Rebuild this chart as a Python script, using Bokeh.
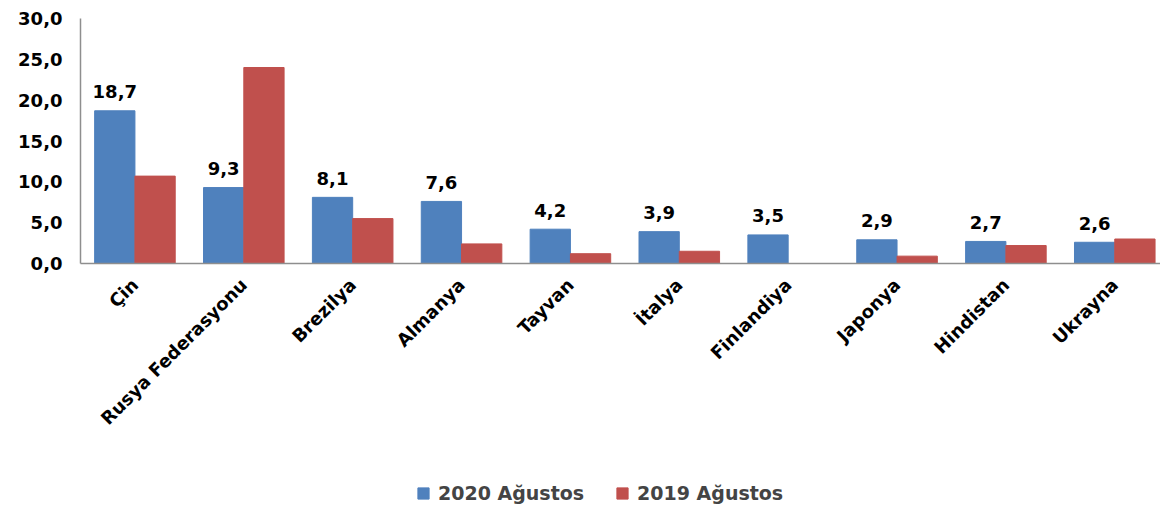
import numpy as np
from bokeh.plotting import figure
from bokeh.layouts import column
from bokeh.models import Range1d, FixedTicker, Legend, LegendItem, ColumnDataSource
from bokeh.embed import file_html
from bokeh.resources import INLINE
from bokeh.core.properties import value

countries = ["Çin", "Rusya Federasyonu", "Brezilya", "Almanya", "Tayvan",
             "İtalya", "Finlandiya", "Japonya", "Hindistan", "Ukrayna"]
v2020 = [18.7, 9.3, 8.1, 7.6, 4.2, 3.9, 3.5, 2.9, 2.7, 2.6]
v2019 = [10.7, 24.0, 5.5, 2.4, 1.2, 1.5, 0.0, 0.9, 2.2, 3.0]
y_ticks = [0, 5, 10, 15, 20, 25, 30]
series_names = ["2020 Ağustos", "2019 Ağustos"]

BLUE = "#4F81BD"
RED = "#C0504D"
FONT = "DejaVu Sans"

centers = np.arange(len(countries)) + 0.5
bw = 0.37

src = ColumnDataSource(dict(
    xb=centers - bw / 2, xr=centers + bw / 2,
    v20=v2020, v19=v2019,
    lab=[f"{v:.1f}".replace(".", ",") for v in v2020],
))

p = figure(width=1160, height=470, output_backend="svg", toolbar_location=None,
           x_range=Range1d(0, 9.92), y_range=Range1d(0, 30),
           min_border_left=80, min_border_right=0, min_border_top=18,
           min_border_bottom=207)
p.outline_line_color = None
p.xgrid.visible = False
p.ygrid.visible = False

r20 = p.vbar(x="xb", top="v20", width=bw, source=src, fill_color=BLUE, line_color=BLUE)
r19 = p.vbar(x="xr", top="v19", width=bw, source=src, fill_color=RED, line_color=RED)

p.text(x="xb", y="v20", text="lab", source=src, text_align="center",
       text_baseline="alphabetic", y_offset=-19, text_font=value(FONT),
       text_font_style="bold", text_font_size="18px", text_color="black")

# y axis
p.yaxis.ticker = FixedTicker(ticks=y_ticks)
p.yaxis.major_label_overrides = {t: f"{t:.1f}".replace(".", ",") for t in y_ticks}
p.yaxis.major_label_text_font = FONT
p.yaxis.major_label_text_font_style = "bold"
p.yaxis.major_label_text_font_size = "18px"
p.yaxis.major_label_text_color = "black"
p.yaxis.major_tick_line_color = None
p.yaxis.minor_tick_line_color = None
p.yaxis.axis_line_color = "#8E8E8E"
p.yaxis.axis_line_width = 1.5
p.yaxis.major_label_standoff = 12

# x axis
p.xaxis.ticker = FixedTicker(ticks=list(centers))
p.xaxis.major_label_overrides = {float(c): n for c, n in zip(centers, countries)}
p.xaxis.major_label_orientation = np.pi / 4
p.xaxis.major_label_text_font = FONT
p.xaxis.major_label_text_font_style = "bold"
p.xaxis.major_label_text_font_size = "18px"
p.xaxis.major_label_text_color = "black"
p.xaxis.major_tick_line_color = None
p.xaxis.minor_tick_line_color = None
p.xaxis.axis_line_color = "#8E8E8E"
p.xaxis.axis_line_width = 1.5
p.xaxis.major_label_standoff = 12

# legend strip
p2 = figure(width=1160, height=34, output_backend="svg", toolbar_location=None,
            x_range=Range1d(0, 1), y_range=Range1d(0, 1),
            x_axis_type=None, y_axis_type=None,
            min_border=0, min_border_left=0, min_border_right=0,
            min_border_top=0, min_border_bottom=0)
p2.outline_line_color = None
p2.xgrid.visible = False
p2.ygrid.visible = False
l20 = p2.vbar(x=[5], top=[5], bottom=[4], width=1, fill_color=BLUE, line_color=BLUE)
l19 = p2.vbar(x=[5], top=[5], bottom=[4], width=1, fill_color=RED, line_color=RED)
legend = Legend(items=[LegendItem(label=series_names[0], renderers=[l20]),
                       LegendItem(label=series_names[1], renderers=[l19])],
                orientation="horizontal", location=(336, 0),
                glyph_width=14, glyph_height=14, label_standoff=8, spacing=31,
                padding=0, margin=0, border_line_color=None,
                background_fill_alpha=0,
                label_text_font=FONT, label_text_font_style="bold",
                label_text_font_size="19px", label_height=20)
p2.add_layout(legend, "center")

layout = column(p, p2, spacing=0)
open("out.html", "w").write(file_html(layout, INLINE))
